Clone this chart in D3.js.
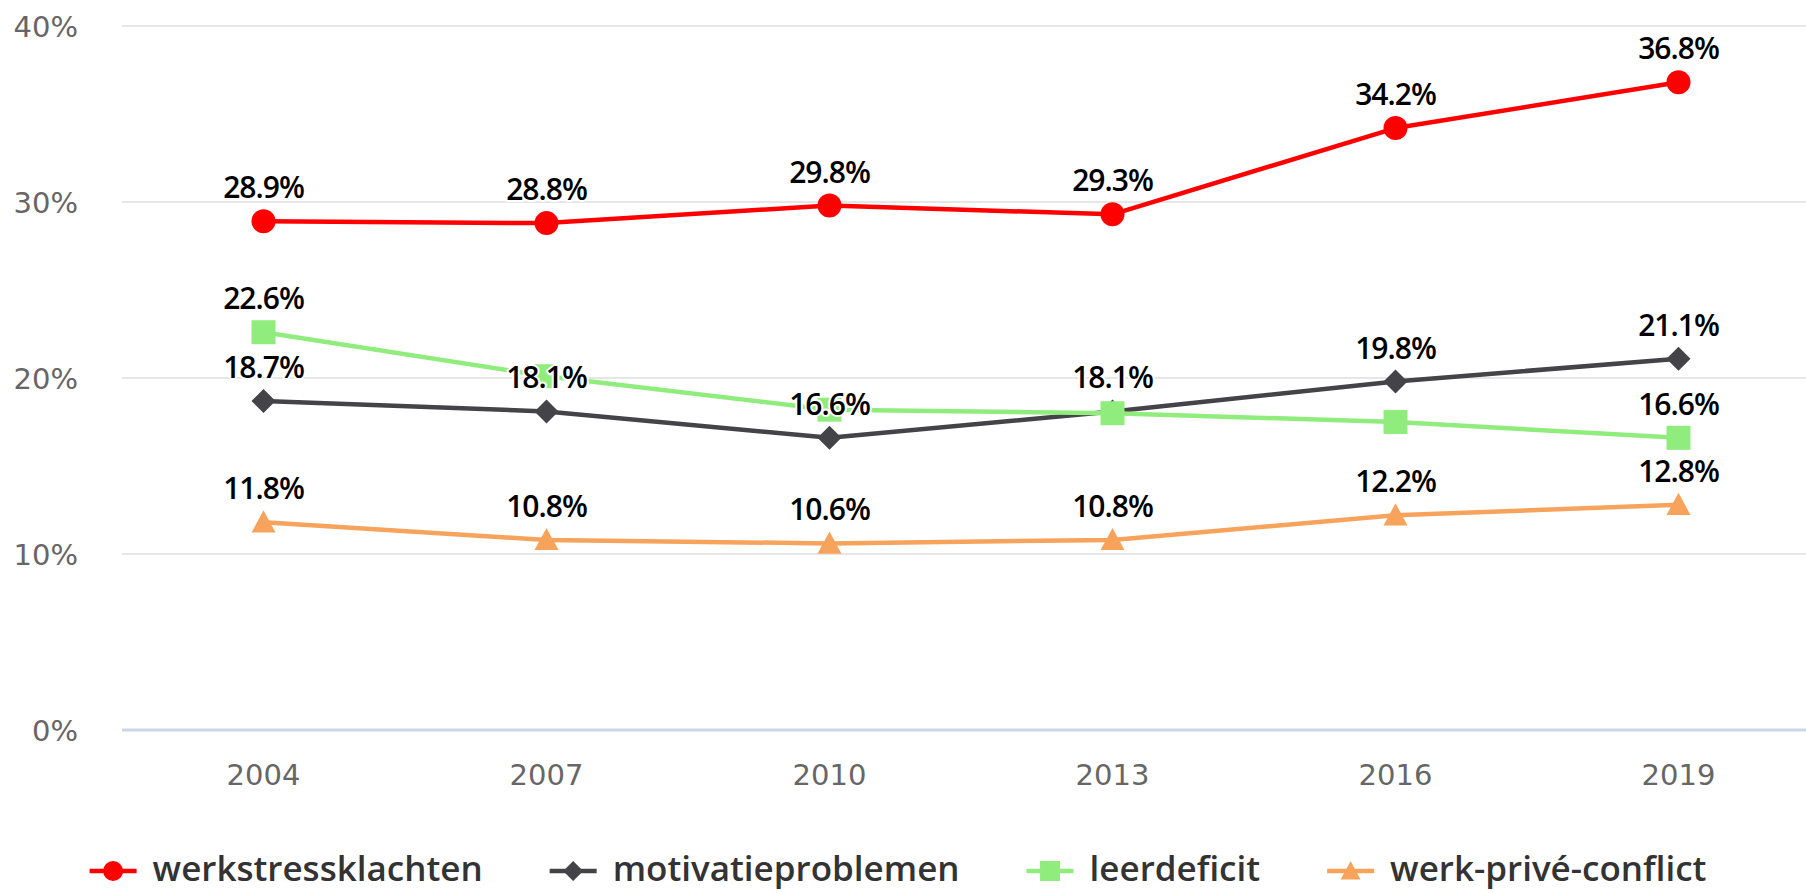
<!DOCTYPE html>
<html>
<head>
<meta charset="utf-8">
<script src="https://cdn.jsdelivr.net/npm/d3@7"></script>
<style>
  html, body { margin: 0; padding: 0; background: #ffffff; }
  svg { display: block; }
</style>
</head>
<body>
<svg id="chart" width="1806" height="893"></svg>
<script>
// ---- data ----
const years = ["2004", "2007", "2010", "2013", "2016", "2019"];
const seriesNames = ["werkstressklachten", "motivatieproblemen", "leerdeficit", "werk-privé-conflict"];
const werkstressklachten = [28.9, 28.8, 29.8, 29.3, 34.2, 36.8];
const motivatieproblemen = [18.7, 18.1, 16.6, 18.1, 19.8, 21.1];
const leerdeficit = [22.6, 20.1, 18.2, 18.0, 17.5, 16.6];
const werkPriveConflict = [11.8, 10.8, 10.6, 10.8, 12.2, 12.8];
const yTicks = [0, 10, 20, 30, 40];
const seriesColors = ["#ff0000", "#434348", "#90ed7d", "#f7a35c"];
const seriesSymbols = ["circle", "diamond", "square", "triangle"];

const seriesValues = [werkstressklachten, motivatieproblemen, leerdeficit, werkPriveConflict];
const series = seriesNames.map((name, i) => ({
  name, color: seriesColors[i], symbol: seriesSymbols[i],
  values: years.map((y, j) => ({ year: y, value: seriesValues[i][j] }))
}));

// ---- layout ----
const plotLeft = 122, plotRight = 1806;
const svg = d3.select("#chart");

const x = d3.scalePoint().domain(years).range([plotLeft, 1820]).padding(0.5);
const y = d3.scaleLinear().domain([0, 40]).range([730, 26]);

function symbolPath(type, s) {
  if (type === "circle") {
    const p = d3.path(); p.arc(0, 0, s, 0, 2 * Math.PI); p.closePath(); return p.toString();
  }
  if (type === "square") return `M${-s},${-s}H${s}V${s}H${-s}Z`;
  if (type === "diamond") return `M0,${-s}L${s},0L0,${s}L${-s},0Z`;
  if (type === "triangle") return `M0,${-s}L${s},${s * 0.85}L${-s},${s * 0.85}Z`;
}
const symbolSize = { circle: 12, square: 12, diamond: 12, triangle: 12 };

// ---- grid ----
svg.append("g").selectAll("line").data(yTicks.filter(t => t !== 0)).join("line")
  .attr("x1", plotLeft).attr("x2", plotRight)
  .attr("y1", d => y(d)).attr("y2", d => y(d))
  .attr("stroke", "#e6e6e6").attr("stroke-width", 2);

svg.append("line")
  .attr("x1", plotLeft).attr("x2", plotRight)
  .attr("y1", y(0)).attr("y2", y(0))
  .attr("stroke", "#ccd6eb").attr("stroke-width", 3);

svg.append("g").selectAll("text").data(yTicks).join("text")
  .attr("x", 78).attr("y", d => y(d) + 11)
  .attr("text-anchor", "end")
  .attr("font-family", "DejaVu Sans, Verdana, sans-serif")
  .attr("font-size", 29).attr("fill", "#666666")
  .text(d => d + "%");

svg.append("g").selectAll("text").data(years).join("text")
  .attr("x", d => x(d)).attr("y", 785)
  .attr("text-anchor", "middle")
  .attr("font-family", "DejaVu Sans, Verdana, sans-serif")
  .attr("font-size", 29).attr("fill", "#666666")
  .text(d => d);

// ---- series ----
const line = d3.line().x(d => x(d.year)).y(d => y(d.value));
const seriesG = svg.append("g");
series.forEach(s => {
  const g = seriesG.append("g");
  g.append("path").datum(s.values)
    .attr("d", line).attr("fill", "none")
    .attr("stroke", s.color).attr("stroke-width", 4.5)
    .attr("stroke-linejoin", "round").attr("stroke-linecap", "round");
  g.selectAll("path.marker").data(s.values).join("path")
    .attr("class", "marker")
    .attr("transform", d => `translate(${x(d.year)},${y(d.value)})`)
    .attr("d", symbolPath(s.symbol, symbolSize[s.symbol]))
    .attr("fill", s.color);
});

// ---- data labels with overlap hiding ----
const labelsG = svg.append("g");
const placed = [];
series.forEach(s => {
  s.values.forEach(d => {
    const lx = x(d.year), ly = y(d.value) - 23;
    const t = labelsG.append("text")
      .attr("x", lx).attr("y", ly)
      .attr("text-anchor", "middle")
      .attr("font-family", "Open Sans, sans-serif")
      .attr("font-weight", 600)
      .attr("font-size", 30)
      .attr("letter-spacing", -1)
      .attr("fill", "#000000")
      .attr("stroke", "#ffffff").attr("stroke-width", 4)
      .attr("stroke-linejoin", "round")
      .attr("paint-order", "stroke")
      .text(d.value.toFixed(1) + "%");
    const bb = t.node().getBBox();
    const box = { x0: bb.x - 6, x1: bb.x + bb.width + 6, y0: bb.y - 6, y1: bb.y + bb.height + 6 };
    const overlap = placed.some(p => !(box.x1 <= p.x0 || box.x0 >= p.x1 || box.y1 <= p.y0 || box.y0 >= p.y1));
    if (overlap) t.remove(); else placed.push(box);
  });
});

// ---- legend ----
const legend = svg.append("g");
const legendY = 871;
let cursor = 0;
series.forEach(s => {
  const g = legend.append("g");
  g.append("line").attr("x1", cursor).attr("x2", cursor + 47)
    .attr("y1", legendY).attr("y2", legendY)
    .attr("stroke", s.color).attr("stroke-width", 4.5);
  g.append("path")
    .attr("transform", `translate(${cursor + 23.5},${legendY})`)
    .attr("d", symbolPath(s.symbol, 10))
    .attr("fill", s.color);
  const t = g.append("text")
    .attr("x", cursor + 63).attr("y", legendY + 10)
    .attr("font-family", "Open Sans, sans-serif")
    .attr("font-weight", 600)
    .attr("font-size", 35)
    .attr("fill", "#333333")
    .text(s.name);
  const w = t.node().getComputedTextLength();
  cursor += 63 + w + 67;
});
const totalW = cursor - 67;
legend.attr("transform", `translate(${898 - totalW / 2},0)`);
</script>
</body>
</html>
